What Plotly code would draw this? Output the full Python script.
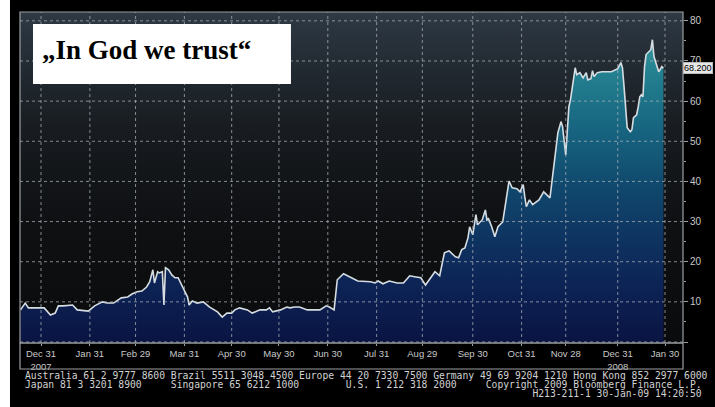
import plotly.graph_objects as go

# ---------------- data ----------------
dates = [
    "2007-12-18", "2007-12-21", "2007-12-23", "2007-12-28", "2008-01-02", "2008-01-06", "2008-01-09",
    "2008-01-11", "2008-01-14", "2008-01-20", "2008-01-23", "2008-01-30", "2008-02-03",
    "2008-02-08", "2008-02-11", "2008-02-15", "2008-02-20", "2008-02-24", "2008-02-27",
    "2008-03-01", "2008-03-04", "2008-03-07", "2008-03-09", "2008-03-11", "2008-03-12",
    "2008-03-14", "2008-03-15", "2008-03-17", "2008-03-18", "2008-03-19", "2008-03-21",
    "2008-03-23", "2008-03-25", "2008-03-27", "2008-03-30", "2008-04-02", "2008-04-03",
    "2008-04-05", "2008-04-08", "2008-04-12", "2008-04-16", "2008-04-21", "2008-04-24",
    "2008-04-27", "2008-04-30", "2008-05-02", "2008-05-05", "2008-05-10", "2008-05-13",
    "2008-05-18", "2008-05-22", "2008-05-24", "2008-05-26", "2008-05-31", "2008-06-04",
    "2008-06-06", "2008-06-09", "2008-06-12", "2008-06-17", "2008-06-25", "2008-06-29",
    "2008-07-01", "2008-07-04", "2008-07-06", "2008-07-10", "2008-07-14", "2008-07-19",
    "2008-07-27", "2008-07-30", "2008-08-01", "2008-08-04", "2008-08-08", "2008-08-13",
    "2008-08-17", "2008-08-21", "2008-08-25", "2008-08-28", "2008-08-31", "2008-09-03",
    "2008-09-06", "2008-09-09", "2008-09-12", "2008-09-15", "2008-09-19", "2008-09-21",
    "2008-09-23", "2008-09-25", "2008-09-27", "2008-09-28", "2008-09-30", "2008-10-02",
    "2008-10-03", "2008-10-06", "2008-10-08", "2008-10-09", "2008-10-10", "2008-10-12",
    "2008-10-14", "2008-10-16", "2008-10-19", "2008-10-20", "2008-10-22", "2008-10-23",
    "2008-10-25", "2008-10-28", "2008-10-30", "2008-11-01", "2008-11-02", "2008-11-03",
    "2008-11-05", "2008-11-07", "2008-11-11", "2008-11-14", "2008-11-18", "2008-11-20",
    "2008-11-22", "2008-11-23", "2008-11-25", "2008-11-26", "2008-11-28", "2008-11-29",
    "2008-11-30", "2008-12-01", "2008-12-02", "2008-12-04", "2008-12-05", "2008-12-07",
    "2008-12-09", "2008-12-11", "2008-12-12", "2008-12-14", "2008-12-15", "2008-12-16",
    "2008-12-18", "2008-12-21", "2008-12-27", "2008-12-31", "2009-01-02", "2009-01-03",
    "2009-01-04", "2009-01-05", "2009-01-06", "2009-01-08", "2009-01-09", "2009-01-10",
    "2009-01-12", "2009-01-13", "2009-01-14", "2009-01-15", "2009-01-16", "2009-01-17",
    "2009-01-18", "2009-01-21", "2009-01-22", "2009-01-23", "2009-01-24", "2009-01-26",
    "2009-01-28", "2009-01-29",
]
values = [
    8.0, 9.7, 8.5, 8.5, 8.5, 6.7, 7.2,
    9.0, 9.0, 9.2, 8.0, 7.7, 9.0,
    10.0, 9.7, 9.7, 11.0, 11.2, 12.0,
    12.5, 12.7, 13.7, 15.0, 18.0, 14.7,
    17.5, 17.2, 17.5, 9.2, 18.5, 18.0,
    16.7, 16.0, 16.0, 13.5, 11.2, 9.2,
    10.2, 9.7, 10.0, 8.7, 7.5, 6.2,
    7.2, 7.2, 8.0, 8.5, 8.0, 7.2,
    8.0, 8.0, 8.5, 7.5, 8.0, 8.7,
    8.5, 8.7, 8.7, 8.0, 8.0, 9.0,
    8.7, 8.0, 15.5, 17.0, 16.2, 15.2,
    15.0, 14.7, 15.2, 14.5, 15.2, 14.7,
    14.7, 16.5, 16.2, 16.0, 14.2, 16.0,
    17.5, 16.5, 22.2, 22.7, 21.2, 21.0,
    23.0, 23.4, 26.0, 28.7, 26.7, 31.7,
    29.2, 30.4, 32.9, 30.4, 30.7, 28.7,
    26.2, 28.7, 29.9, 32.4, 37.2, 40.1,
    38.4, 38.2, 37.4, 39.2, 36.2, 33.7,
    35.4, 34.2, 35.4, 37.4, 35.9, 43.0,
    48.6, 52.1, 54.9, 53.6, 46.6, 52.4,
    58.6, 60.3, 62.8, 68.3, 66.6, 67.1,
    65.8, 67.1, 65.3, 65.6, 67.6, 66.1,
    67.1, 67.3, 67.3, 68.1, 69.6, 68.3,
    63.6, 57.9, 53.4, 52.4, 52.9, 55.9,
    56.6, 58.6, 61.1, 61.6, 61.1, 68.6,
    71.6, 72.8, 75.3, 71.1, 69.8, 67.3,
    68.6, 68.2,
]
last_value_label = "68.200"

x_tick_dates = ["2007-12-31", "2008-01-31", "2008-02-29", "2008-03-31", "2008-04-30",
                "2008-05-30", "2008-06-30", "2008-07-31", "2008-08-29", "2008-09-30",
                "2008-10-31", "2008-11-28", "2008-12-31", "2009-01-30"]
x_tick_text = ["Dec 31<br>2007", "Jan 31", "Feb 29", "Mar 31", "Apr 30", "May 30", "Jun 30",
               "Jul 31", "Aug 29", "Sep 30", "Oct 31", "Nov 28", "Dec 31<br>2008", "Jan 30"]
y_tick_vals = [0, 10, 20, 30, 40, 50, 60, 70, 80]
y_tick_text = ["", "10", "20", "30", "40", "50", "60", "70", "80"]
y_minor_vals = [5, 15, 25, 35, 45, 55, 65, 75]

title_text = "„In God we trust“"
footer_lines = [
    "Australia 61 2 9777 8600 Brazil 5511 3048 4500 Europe 44 20 7330 7500 Germany 49 69 9204 1210 Hong Kong 852 2977 6000",
    "Japan 81 3 3201 8900" + "\u00a0" * 5 + "Singapore 65 6212 1000" + "\u00a0" * 8
    + "U.S. 1 212 318 2000" + "\u00a0" * 5 + "Copyright 2009 Bloomberg Finance L.P.",
    "\u00a0" * 87 + "H213-211-1 30-Jan-09 14:20:50",
]

# ---------------- layout constants ----------------
X_RANGE = ["2007-12-17 16:00", "2009-02-10 10:00"]
Y_RANGE = [-0.25, 82.2]
GRID = "rgba(170,178,186,0.75)"
FRAME = "#9a9ea2"

fig = go.Figure()

# plot-area background gradient
fig.add_trace(go.Scatter(
    x=[X_RANGE[0], X_RANGE[1], X_RANGE[1], X_RANGE[0]],
    y=[Y_RANGE[0], Y_RANGE[0], Y_RANGE[1], Y_RANGE[1]],
    fill="toself", mode="lines", line=dict(width=0),
    fillgradient=dict(type="vertical", start=Y_RANGE[0], stop=Y_RANGE[1],
                      colorscale=[[0, "#0a0b0c"], [0.35, "#0e1012"], [0.6, "#16191d"],
                                  [0.8, "#20272e"], [1, "#2e3944"]]),
    hoverinfo="skip", showlegend=False,
))

# the data series
fig.add_trace(go.Scatter(
    x=dates, y=values, mode="lines",
    line=dict(color="#d6dde2", width=1.6),
    fill="tozeroy",
    fillgradient=dict(type="vertical", start=0, stop=76,
                      colorscale=[[0, "#0a1442"], [0.15, "#0c2052"], [0.3, "#0e2f5e"],
                                  [0.5, "#10476c"], [0.7, "#176580"], [0.88, "#23808f"],
                                  [1, "#35989f"]]),
    showlegend=False,
))

shapes = []
for d in x_tick_dates:
    shapes.append(dict(type="line", xref="x", yref="paper", x0=d, x1=d, y0=0, y1=1,
                       line=dict(color=GRID, width=1, dash="dot"), layer="above"))
for v in y_tick_vals:
    shapes.append(dict(type="line", xref="paper", yref="y", x0=0, x1=1, y0=v, y1=v,
                       line=dict(color=GRID, width=1, dash="dot"), layer="above"))
# frames
shapes.append(dict(type="rect", xref="paper", yref="paper", x0=0, x1=1, y0=0, y1=1,
                   line=dict(color=FRAME, width=1.2), layer="above"))
shapes.append(dict(type="rect", xref="paper", yref="paper", x0=0, x1=1, y0=-0.0785, y1=0,
                   line=dict(color=FRAME, width=1.2), layer="above"))
# left white strip of the screenshot
shapes.append(dict(type="rect", xref="paper", yref="paper", x0=-0.0302, x1=-0.0151,
                   y0=-0.2, y1=1.05, fillcolor="white", line=dict(width=0), layer="above"))
# title box
shapes.append(dict(type="rect", xref="paper", yref="paper", x0=0.0196, x1=0.4087,
                   y0=0.7825, y1=0.9637, fillcolor="white", line=dict(width=0), layer="above"))

annotations = [
    dict(text="<b>" + title_text + "</b>", xref="paper", yref="paper", x=0.030, y=0.885,
         xanchor="left", yanchor="middle", showarrow=False,
         font=dict(family="Liberation Serif", size=27, color="black")),
    dict(text=last_value_label, xref="paper", yref="y", x=1.0, y=68.2,
         xanchor="left", yanchor="middle", showarrow=False,
         font=dict(family="Liberation Sans Narrow, Liberation Sans", size=9, color="black"),
         bgcolor="#e6e6e6", bordercolor="#bbbbbb", borderwidth=1, borderpad=0),
]
for i, (line, yp) in enumerate(zip(footer_lines, [-0.0967, -0.1239, -0.154])):
    annotations.append(dict(text=line, xref="paper", yref="paper", x=0.0045, y=yp,
                            xanchor="left", yanchor="middle", showarrow=False,
                            font=dict(family="DejaVu Sans Mono", size=9.7, color="#d2d2d2")))

fig.update_layout(
    width=715, height=407,
    margin=dict(l=20, r=32, t=12, b=64),
    paper_bgcolor="black", plot_bgcolor="black",
    shapes=shapes, annotations=annotations,
    xaxis=dict(type="date", range=X_RANGE, tickmode="array", tickvals=x_tick_dates,
               ticktext=x_tick_text, showgrid=False, zeroline=False,
               ticks="outside", ticklen=2, tickcolor=FRAME,
               tickfont=dict(family="Liberation Sans Narrow, Liberation Sans", size=9.5, color="#c8c8c8")),
    yaxis=dict(range=Y_RANGE, side="right", tickmode="array", tickvals=y_tick_vals,
               ticktext=y_tick_text, showgrid=False, zeroline=False,
               ticks="outside", ticklen=4, tickcolor=FRAME,
               minor=dict(tickvals=y_minor_vals, ticks="outside", ticklen=2, tickcolor=FRAME),
               tickfont=dict(family="Liberation Sans Narrow, Liberation Sans", size=10, color="#c8c8c8")),
    hovermode=False,
)

fig.write_html("out.html", config={"displayModeBar": False},
               post_script="document.body.style.margin='0';document.body.style.background='black';")
